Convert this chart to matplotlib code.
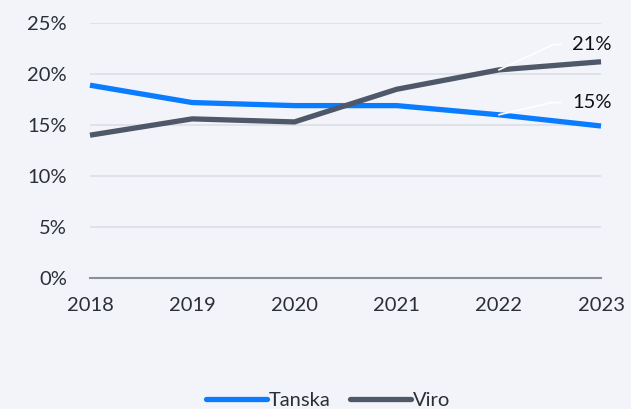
import matplotlib.pyplot as plt
from matplotlib.lines import Line2D

years = [2018, 2019, 2020, 2021, 2022, 2023]
tanska = [18.9, 17.2, 16.9, 16.9, 16.0, 14.9]
viro = [14.0, 15.6, 15.3, 18.5, 20.4, 21.2]
yticks = [0, 5, 10, 15, 20, 25]

bg = '#f2f4f9'
blue = '#0a7cff'
grey = '#4f5869'
text_col = '#2b2f36'

plt.rcParams['font.family'] = ['Lato', 'DejaVu Sans']

fig = plt.figure(figsize=(6.31, 4.09), dpi=100, facecolor=bg)
ax = fig.add_axes([0.1426, 0.3203, 0.8099, 0.6235], facecolor=bg)

ax.plot(years, tanska, color=blue, lw=3.8, solid_capstyle='butt', zorder=3, clip_on=False)
ax.plot(years, viro, color=grey, lw=3.8, solid_capstyle='butt', zorder=3, clip_on=False)

ax.set_xlim(2018, 2023)
ax.set_ylim(0, 25)
ax.set_yticks(yticks)
ax.set_yticklabels([f'{v}%' for v in yticks])
ax.set_xticks(years)
ax.set_xticklabels([str(y) for y in years])
ax.grid(axis='y', color='#dcdfe5', lw=1.2, zorder=0)
ax.grid(axis='x', visible=False)
for s in ['top', 'right', 'left']:
    ax.spines[s].set_visible(False)
ax.spines['bottom'].set_color('#8a909b')
ax.spines['bottom'].set_linewidth(1.5)
ax.spines['bottom'].set_zorder(4)
ax.tick_params(axis='both', length=0, labelsize=14.5, colors=text_col)
ax.tick_params(axis='y', pad=16.5)
ax.tick_params(axis='x', pad=14)

# end-value labels with white leader lines
for series, yoff, ang in [(viro, 2.5, 25), (tanska, 1.2, 13)]:
    y0 = series[4]
    ax.annotate(f'{series[-1]:.0f}%', xy=(2022, y0), xytext=(2022.91, y0 + yoff),
                fontsize=14.5, color='#111111', ha='center', va='center', zorder=5,
                arrowprops=dict(arrowstyle='-', color='white', lw=1.2,
                                connectionstyle=f'angle,angleA=0,angleB={ang},rad=0',
                                shrinkA=6, shrinkB=0))

handles = [Line2D([0], [0], color=blue, lw=3.8, solid_capstyle='round'),
           Line2D([0], [0], color=grey, lw=3.8, solid_capstyle='round')]
fig.legend(handles, ['Tanska', 'Viro'], loc='center', bbox_to_anchor=(0.52, 0.022),
           ncol=2, frameon=False, fontsize=14.5, handlelength=3.0, handletextpad=0.1,
           columnspacing=1.0, labelcolor=text_col)

fig.savefig('out.png', dpi=100, facecolor=bg)
